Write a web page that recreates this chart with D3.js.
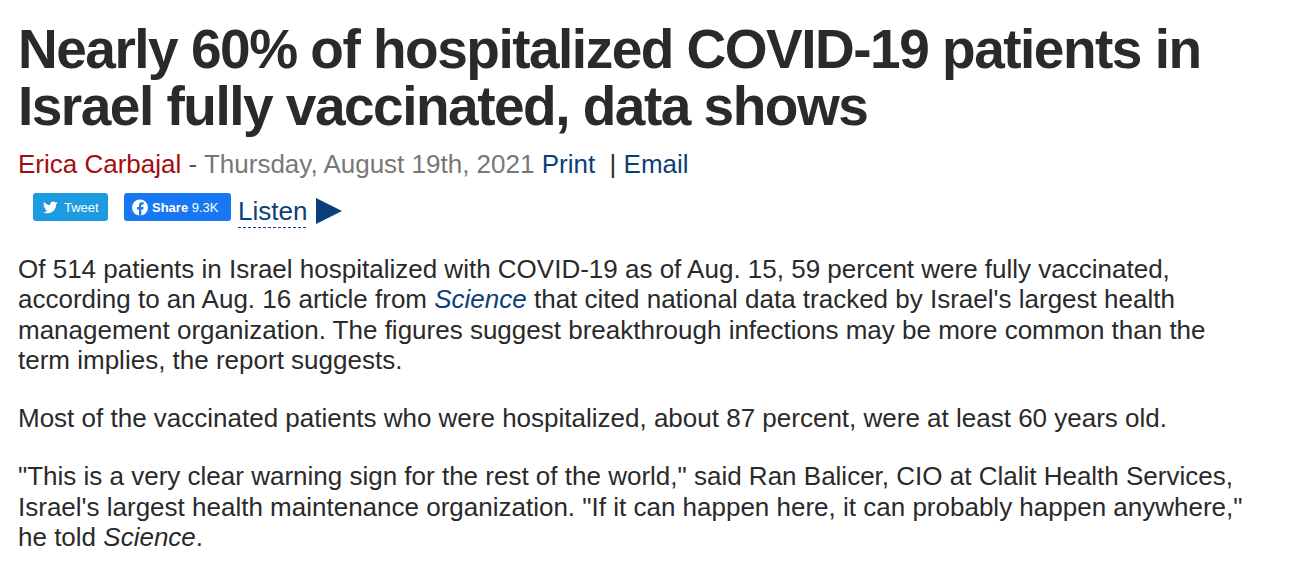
<!DOCTYPE html>
<html>
<head>
<meta charset="utf-8">
<script src="https://cdn.jsdelivr.net/npm/d3@7"></script>
<style>
  html, body { margin: 0; padding: 0; background: #fff; }
  svg { display: block; font-family: "Liberation Sans", Arial, sans-serif; }
</style>
</head>
<body>
<svg id="page"></svg>
<script>
const width = 1292, height = 573;

// Article text
const headlineLines = [
    "Nearly 60% of hospitalized COVID-19 patients in",
    "Israel fully vaccinated, data shows"
];

const bylineParts = [
    { text: "Erica Carbajal", kind: "author" },
    { text: " - ", kind: "sep" },
    { text: "Thursday, August 19th, 2021", kind: "date" },
    { text: " Print", kind: "link" },
    { text: "  | ", kind: "plain" },
    { text: "Email", kind: "link" }
];

const shareButtons = [
    { label: "Tweet", kind: "twitter" },
    { label: "Share", count: "9.3K", kind: "facebook" }
];

const listenLabel = "Listen";

// each paragraph is a list of lines, each line a list of segments
const paragraphs = [
    [
        [{ text: "Of 514 patients in Israel hospitalized with COVID-19 as of Aug. 15, 59 percent were fully vaccinated," }],
        [{ text: "according to an Aug. 16 article from " }, { text: "Science", kind: "link-em" }, { text: " that cited national data tracked by Israel's largest health" }],
        [{ text: "management organization. The figures suggest breakthrough infections may be more common than the" }],
        [{ text: "term implies, the report suggests." }]
    ],
    [
        [{ text: "Most of the vaccinated patients who were hospitalized, about 87 percent, were at least 60 years old." }]
    ],
    [
        [{ text: "\"This is a very clear warning sign for the rest of the world,\" said Ran Balicer, CIO at Clalit Health Services," }],
        [{ text: "Israel's largest health maintenance organization. \"If it can happen here, it can probably happen anywhere,\"" }],
        [{ text: "he told " }, { text: "Science", kind: "em" }, { text: "." }]
    ]
];

// Styles
const textColor = "#2a2a2a";
const linkColor = "#0b3f7a";
const bylineColors = { author: "#a30d0d", sep: "#555", date: "#777", link: linkColor, plain: textColor };
const buttonColors = { twitter: "#1d9be0", facebook: "#1877f2" };

const svg = d3.select("#page")
    .attr("width", width)
    .attr("height", height)
    .attr("viewBox", [0, 0, width, height]);

svg.append("rect").attr("width", width).attr("height", height).attr("fill", "#fff");

const left = 18;

// Headline
const headlineY = d3.scaleLinear().domain([0, 1]).range([68, 125]);
svg.append("g")
    .selectAll("text")
    .data(headlineLines)
    .join("text")
    .attr("x", left)
    .attr("y", (d, i) => headlineY(i))
    .attr("font-size", 55)
    .attr("font-weight", "bold")
    .attr("letter-spacing", -1.5)
    .attr("fill", textColor)
    .text(d => d);

// Byline
const byline = svg.append("text")
    .attr("x", left)
    .attr("y", 173)
    .attr("font-size", 26)
    .attr("xml:space", "preserve")
    .style("white-space", "pre");
byline.selectAll("tspan")
    .data(bylineParts)
    .join("tspan")
    .attr("fill", d => bylineColors[d.kind])
    .text(d => d.text);

// Share buttons
const btnX = d3.scaleOrdinal().domain(["twitter", "facebook"]).range([33, 124]);
const btnW = { twitter: 75, facebook: 107 };
const btns = svg.append("g")
    .selectAll("g")
    .data(shareButtons)
    .join("g")
    .attr("transform", d => `translate(${btnX(d.kind)},193)`);

btns.append("rect")
    .attr("width", d => btnW[d.kind])
    .attr("height", 28)
    .attr("rx", 3)
    .attr("fill", d => buttonColors[d.kind]);

// twitter bird (simplified)
btns.filter(d => d.kind === "twitter")
    .append("path")
    .attr("transform", "translate(10,7) scale(0.62)")
    .attr("fill", "#fff")
    .attr("d", "M23.6 4.6c-.9.4-1.8.6-2.8.8 1-.6 1.8-1.6 2.1-2.7-.9.6-2 1-3.1 1.2C18.9 2.9 17.6 2.3 16.3 2.3c-2.7 0-4.8 2.2-4.8 4.8 0 .4 0 .8.1 1.1C7.5 8 4 6.1 1.6 3.1c-.4.7-.6 1.6-.6 2.4 0 1.7.9 3.2 2.2 4-.8 0-1.5-.2-2.2-.6v.1c0 2.3 1.7 4.3 3.9 4.7-.4.1-.8.2-1.300.2-.3 0-.6 0-.9-.1.6 1.9 2.4 3.3 4.5 3.4-1.7 1.3-3.7 2.1-6 2.1-.4 0-.8 0-1.2-.1 2.1 1.4 4.7 2.2 7.4 2.200 8.9 0 13.7-7.4 13.7-13.7v-.6c1-.7 1.8-1.5 2.5-2.5z");

btns.filter(d => d.kind === "twitter")
    .append("text")
    .attr("x", 31)
    .attr("y", 18.5)
    .attr("font-size", 13)
    .attr("fill", "#fff")
    .text(d => d.label);

// facebook logo
const fb = btns.filter(d => d.kind === "facebook");
fb.append("circle").attr("cx", 16).attr("cy", 14.5).attr("r", 8).attr("fill", "#fff");
fb.append("path")
    .attr("fill", "#1877f2")
    .attr("d", "M17.3 22.5v-6h2l.35-2.4h-2.35v-1.5c0-.7.3-1.2 1.2-1.2h1.2v-2.1c-.3 0-1-.1-1.8-.1-1.8 0-2.9 1-2.9 3v1.9h-2v2.4h2v6z");
fb.append("text")
    .attr("x", 28)
    .attr("y", 19)
    .attr("font-size", 13)
    .attr("fill", "#fff")
    .attr("xml:space", "preserve")
    .style("white-space", "pre")
    .call(t => t.append("tspan").attr("font-weight", "bold").text(d => d.label))
    .call(t => t.append("tspan").text(d => " " + d.count));

// Listen link
svg.append("text")
    .attr("x", 238)
    .attr("y", 220)
    .attr("font-size", 26)
    .attr("fill", linkColor)
    .text(listenLabel);
svg.append("line")
    .attr("x1", 238).attr("x2", 308)
    .attr("y1", 227.5).attr("y2", 227.5)
    .attr("stroke", "#0b3f7a")
    .attr("stroke-width", 1)
    .attr("stroke-dasharray", "3,2");
svg.append("path")
    .attr("d", "M316,198 L342,211 L316,224 Z")
    .attr("fill", "#0b3f7a");

// Body paragraphs
const paraStart = [277.5, 427, 485];
const lineStep = 30.5;
const segFill = kind => (kind === "link-em" ? linkColor : textColor);

paragraphs.forEach((para, p) => {
    svg.append("g")
        .selectAll("text")
        .data(para)
        .join("text")
        .attr("x", left)
        .attr("y", (d, i) => paraStart[p] + i * lineStep)
        .attr("font-size", 26)
        .attr("fill", textColor)
        .attr("xml:space", "preserve")
        .style("white-space", "pre")
        .selectAll("tspan")
        .data(d => d)
        .join("tspan")
        .attr("fill", d => segFill(d.kind))
        .attr("font-style", d => (d.kind === "em" || d.kind === "link-em") ? "italic" : null)
        .text(d => d.text);
});
</script>
</body>
</html>
